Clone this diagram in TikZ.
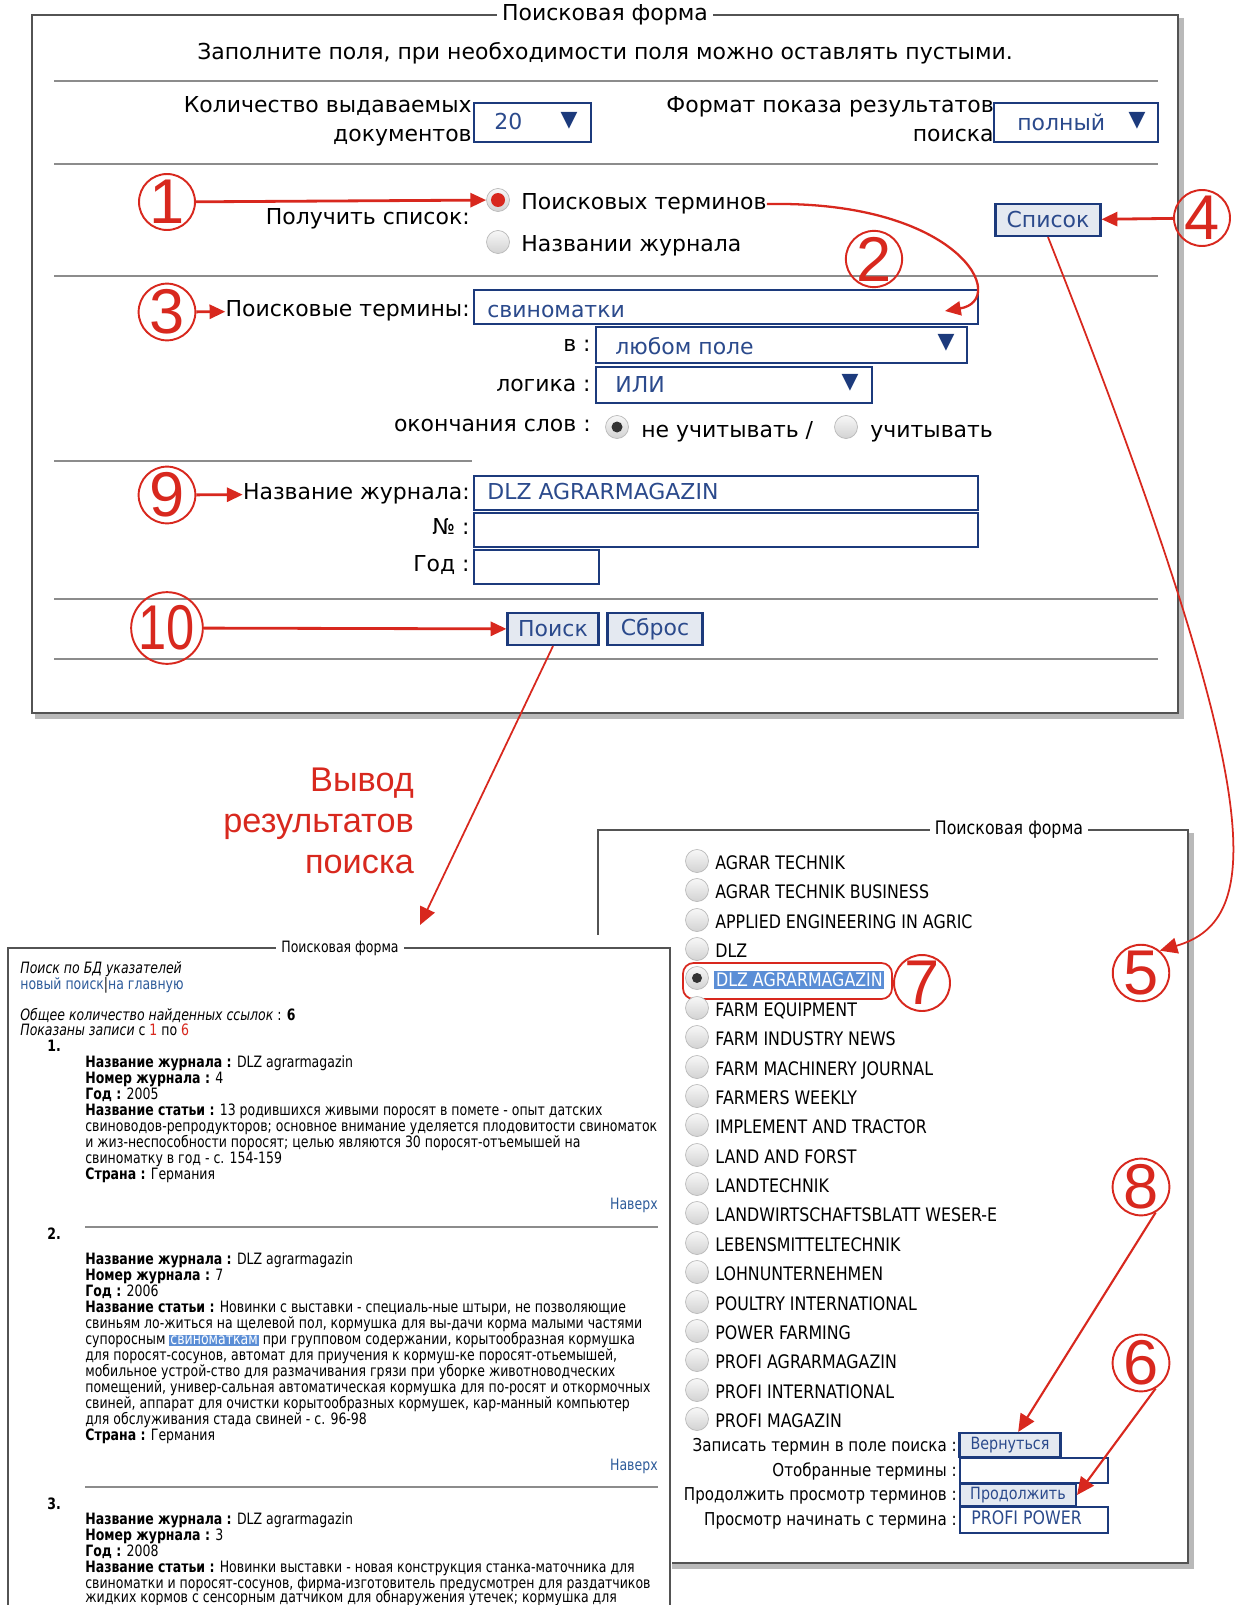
\documentclass[tikz,border=0pt]{standalone}
\usepackage{fontspec}
\setmainfont{DejaVu Sans}
\newfontfamily\listfont[FakeStretch=0.85]{DejaVu Sans}
\newfontfamily\resfont[FakeStretch=0.8]{DejaVu Sans}
\newfontfamily\annofont{Liberation Sans}
\usetikzlibrary{arrows.meta}
\definecolor{annored}{HTML}{D8281E}
\definecolor{navy}{HTML}{1C3A7C}
\definecolor{fieldblue}{HTML}{2B4A8C}
\definecolor{btnfill}{HTML}{E4E9F1}
\definecolor{sepgray}{HTML}{8C8C8C}
\definecolor{linkblue}{HTML}{2D5B9A}
\definecolor{selblue}{HTML}{5B8ED6}
\newcommand{\formfont}{\fontsize{12.5}{15}\selectfont}
\newcommand{\listsz}{\listfont\fontsize{10.6}{12}\selectfont}
\newcommand{\sidesz}{\listfont\fontsize{10.1}{12}\selectfont}
\newcommand{\btnsz}{\listfont\fontsize{9.6}{11}\selectfont}
\newcommand{\ressz}{\resfont\fontsize{8.9}{9.1}\selectfont}
\newcommand{\numfont}{\annofont\fontsize{36}{36}\selectfont}

\begin{document}
\begin{tikzpicture}[x=0.02cm, y=-0.02cm,
    num/.style={circle, draw=annored, line width=1.1pt, minimum size=1.1cm, inner sep=0pt, text=annored, font=\numfont},
    anno/.style={draw=annored, line width=1.6pt, -{Triangle[length=9pt,width=8pt]}},
    annothin/.style={draw=annored, line width=1pt, -{Triangle[length=10pt,width=9pt]}},
    field/.style={draw=navy, line width=1.4pt, fill=white},
    fieldtxt/.style={text=fieldblue, font=\formfont, anchor=mid west, inner sep=0pt},
    lbl/.style={font=\formfont, anchor=mid east, inner sep=0pt},
    txt/.style={font=\formfont, anchor=mid west, inner sep=0pt},
    btn/.style={draw=navy, line width=1.2pt, fill=btnfill, text=fieldblue, inner sep=0pt},
    radio/.style={circle, draw=gray!55, top color=gray!6, bottom color=gray!35, minimum size=0.46cm, inner sep=0pt},
    sep/.style={draw=sepgray, line width=1.3pt},
    panel/.style={draw=gray!65!black, line width=1.1pt, fill=white},
    shadow/.style={draw=gray!55, line width=3pt},
    ttl/.style={fill=white, inner sep=3pt},
    item/.style={font=\listsz, anchor=mid west, inner sep=0pt},
    side/.style={font=\sidesz, anchor=mid east, inner sep=0pt},
    res/.style={font=\ressz, anchor=mid west, inner sep=0pt}]
\useasboundingbox (0,0) rectangle (1248,1605);
\clip (0,0) rectangle (1248,1605);

% upper form
\draw[shadow] (1181,18) -- (1181,716) -- (35,716);
\draw[panel] (32,15) rectangle (1178,713);
\node[ttl, font=\formfont] (formtitle) at (605,15) {Поисковая форма};
\node[font=\formfont] (hint) at (605,53) {Заполните поля, при необходимости поля можно оставлять пустыми.};
\draw[sep] (54,81) -- (1158,81); \draw[sep] (54,164) -- (1158,164); \draw[sep] (54,276) -- (1158,276);
\draw[sep] (54,461) -- (472,461); \draw[sep] (54,599) -- (1158,599); \draw[sep] (54,659) -- (1158,659);

\node[lbl] (lbcount) at (472,108) {Количество выдаваемых}; \node[lbl] (lbcount2) at (472,137) {документов};
\draw[field] (474,103) rectangle (591,142);
\node[fieldtxt] (vcount) at (494,125) {20}; \node[text=navy, font=\formfont] (arcount) at (569,121) {▼};
\node[lbl] (lbformat) at (994,108) {Формат показа результатов}; \node[lbl] (lbformat2) at (994,137) {поиска};
\draw[field] (994,103) rectangle (1158,142);
\node[fieldtxt] (vformat) at (1017,126) {полный}; \node[text=navy, font=\formfont] (arformat) at (1137,121) {▼};

\node[lbl] (lblist) at (470,220) {Получить список:};
\node[radio] (r1) at (498,200) {}; \fill[annored] (r1.center) circle (7);
\node[txt] (t1) at (521,205) {Поисковых терминов};
\node[radio] (r2) at (498,242) {};
\node[txt] (t2) at (521,247) {Названии журнала};
\node[btn, minimum width=2.1cm, minimum height=0.64cm, font=\formfont] (spisok) at (1048,220) {Список};

\node[lbl] (lbterms) at (470,312) {Поисковые термины:};
\draw[field] (474,290) rectangle (978,324);
\node[fieldtxt] (vterms) at (487,313) {свиноматки};
\coordinate (termsin) at (945,311);
\node[lbl] (lbin) at (591,347) {в :};
\draw[field] (596,327) rectangle (967,363);
\node[fieldtxt] (vin) at (615,350) {любом поле}; \node[text=navy, font=\formfont] (arin) at (946,343) {▼};
\node[lbl] (lblogic) at (591,387) {логика :};
\draw[field] (596,367) rectangle (872,403);
\node[fieldtxt] (vlogic) at (615,388) {ИЛИ}; \node[text=navy, font=\formfont] (arlogic) at (850,383) {▼};
\node[lbl] (lbend) at (591,427) {окончания слов :};
\node[radio] (r3) at (617,427) {}; \fill[gray!40!black] (r3.center) circle (5.5);
\node[txt] (t3) at (641,433) {не учитывать /};
\node[radio] (r4) at (846,427) {};
\node[txt] (t4) at (870,433) {учитывать};

\node[lbl] (lbjour) at (470,495) {Название журнала:};
\draw[field] (474,476) rectangle (978,510);
\node[fieldtxt] (vjour) at (487,495) {DLZ AGRARMAGAZIN};
\node[lbl] (lbno) at (470,530) {№ :};
\draw[field] (474,513) rectangle (978,547);
\node[lbl] (lbyear) at (470,567) {Год :};
\draw[field] (474,550) rectangle (599,584);
\node[btn, minimum width=1.82cm, minimum height=0.64cm, font=\formfont] (poisk) at (553,629) {Поиск};
\node[btn, minimum width=1.9cm, minimum height=0.64cm, font=\formfont] (sbros) at (655,629) {Сброс};

% journal list
\draw[shadow] (1191,833) -- (1191,1566) -- (601,1566);
\draw[panel] (598,830) rectangle (1188,1563);
\node[ttl, font=\listsz] (listtitle) at (1009,830) {Поисковая форма};
\node[radio] (rb1) at (697,861) {}; \node[item] (j1) at (715,865) {AGRAR TECHNIK};
\node[radio] (rb2) at (697,890) {}; \node[item] (j2) at (715,894) {AGRAR TECHNIK BUSINESS};
\node[radio] (rb3) at (697,920) {}; \node[item] (j3) at (715,924) {APPLIED ENGINEERING IN AGRIC};
\node[radio] (rb4) at (697,949) {}; \node[item] (j4) at (715,953) {DLZ};
\node[radio] (rb5) at (697,978) {}; \fill[gray!40!black] (rb5.center) circle (5);
\node[item, fill=selblue, text=white, inner sep=1pt] (j5) at (714,982) {DLZ AGRARMAGAZIN};
\draw[annored, line width=1pt, rounded corners=6] (683,963) rectangle (892,999);
\node[radio] (rb6) at (697,1008) {}; \node[item] (j6) at (715,1012) {FARM EQUIPMENT};
\node[radio] (rb7) at (697,1037) {}; \node[item] (j7) at (715,1041) {FARM INDUSTRY NEWS};
\node[radio] (rb8) at (697,1067) {}; \node[item] (j8) at (715,1071) {FARM MACHINERY JOURNAL};
\node[radio] (rb9) at (697,1096) {}; \node[item] (j9) at (715,1100) {FARMERS WEEKLY};
\node[radio] (rb10) at (697,1125) {}; \node[item] (j10) at (715,1129) {IMPLEMENT AND TRACTOR};
\node[radio] (rb11) at (697,1155) {}; \node[item] (j11) at (715,1159) {LAND AND FORST};
\node[radio] (rb12) at (697,1184) {}; \node[item] (j12) at (715,1188) {LANDTECHNIK};
\node[radio] (rb13) at (697,1213) {}; \node[item] (j13) at (715,1217) {LANDWIRTSCHAFTSBLATT WESER-E};
\node[radio] (rb14) at (697,1243) {}; \node[item] (j14) at (715,1247) {LEBENSMITTELTECHNIK};
\node[radio] (rb15) at (697,1272) {}; \node[item] (j15) at (715,1276) {LOHNUNTERNEHMEN};
\node[radio] (rb16) at (697,1302) {}; \node[item] (j16) at (715,1306) {POULTRY INTERNATIONAL};
\node[radio] (rb17) at (697,1331) {}; \node[item] (j17) at (715,1335) {POWER FARMING};
\node[radio] (rb18) at (697,1360) {}; \node[item] (j18) at (715,1364) {PROFI AGRARMAGAZIN};
\node[radio] (rb19) at (697,1390) {}; \node[item] (j19) at (715,1394) {PROFI INTERNATIONAL};
\node[radio] (rb20) at (697,1419) {}; \node[item] (j20) at (715,1423) {PROFI MAGAZIN};
\node[side] (lbback) at (957,1447) {Записать термин в поле поиска :};
\node[btn, minimum width=2.02cm, minimum height=0.48cm, font=\btnsz] (vernut) at (1010,1445) {Вернуться};
\node[side] (lbsel) at (957,1472) {Отобранные термины :};
\draw[field, line width=1.1pt] (960,1458) rectangle (1108,1483);
\node[side] (lbnext) at (957,1496) {Продолжить просмотр терминов :};
\node[btn, minimum width=2.32cm, minimum height=0.46cm, font=\btnsz] (prodolzh) at (1018,1495) {Продолжить};
\node[side] (lbstart) at (957,1521) {Просмотр начинать с термина :};
\draw[field, line width=1.1pt] (960,1507) rectangle (1108,1533);
\node[item, text=fieldblue] (vstart) at (971,1520) {PROFI POWER};

% results
\fill[white] (0,935) rectangle (672,1605);
\draw[draw=gray!65!black, line width=1pt] (8,1620) -- (8,948) -- (670,948) -- (670,1620);
\node[ttl, font=\ressz] (restitle) at (340,948) {Поисковая форма};
\node[res] (q1) at (20,969) {\textit{Поиск по БД указателей}};
\node[res, text=linkblue] (q2) at (20,985) {новый поиск\textcolor{black}{|}на главную};
\node[res] (q3) at (20,1016) {\textit{Общее количество найденных ссылок} : \textbf{6}};
\node[res] (q4) at (20,1031) {\textit{Показаны записи} с \textcolor{annored}{1} по \textcolor{annored}{6}};
\node[res] (k1) at (47,1047) {\textbf{1.}};
\node[res] (a1) at (85,1063) {\textbf{Название журнала :} DLZ agrarmagazin};
\node[res] (a2) at (85,1079) {\textbf{Номер журнала :} 4};
\node[res] (a3) at (85,1095) {\textbf{Год :} 2005};
\node[res] (a4) at (85,1111) {\textbf{Название статьи :} 13 родившихся живыми поросят в помете - опыт датских};
\node[res] (a5) at (85,1127) {свиноводов-репродукторов; основное внимание уделяется плодовитости свиноматок};
\node[res] (a6) at (85,1143) {и жиз-неспособности поросят; целью являются 30 поросят-отъемышей на};
\node[res] (a7) at (85,1159) {свиноматку в год - с. 154-159};
\node[res] (a8) at (85,1175) {\textbf{Страна :} Германия};
\node[res, anchor=mid east, text=linkblue] (up1) at (658,1205) {Наверх};
\draw[sepgray, line width=1pt] (85,1227) -- (658,1227);
\node[res] (k2) at (47,1235) {\textbf{2.}};
\node[res] (b1) at (85,1260) {\textbf{Название журнала :} DLZ agrarmagazin};
\node[res] (b2) at (85,1276) {\textbf{Номер журнала :} 7};
\node[res] (b3) at (85,1292) {\textbf{Год :} 2006};
\node[res] (b4) at (85,1308) {\textbf{Название статьи :} Новинки с выставки - специаль-ные штыри, не позволяющие};
\node[res] (b5) at (85,1324) {свиньям ло-житься на щелевой пол, кормушка для вы-дачи корма малыми частями};
\node[res] (b6) at (85,1340) {супоросным {\setlength{\fboxsep}{0.6pt}\colorbox{selblue}{\textcolor{white}{свиноматкам}}} при групповом содержании, корытообразная кормушка};
\node[res] (b7) at (85,1356) {для поросят-сосунов, автомат для приучения к кормуш-ке поросят-отьемышей,};
\node[res] (b8) at (85,1372) {мобильное устрой-ство для размачивания грязи при уборке животноводческих};
\node[res] (b9) at (85,1388) {помещений, универ-сальная автоматическая кормушка для по-росят и откормочных};
\node[res] (b10) at (85,1404) {свиней, аппарат для очистки корытообразных кормушек, кар-манный компьютер};
\node[res] (b11) at (85,1420) {для обслуживания стада свиней - с. 96-98};
\node[res] (b12) at (85,1436) {\textbf{Страна :} Германия};
\node[res, anchor=mid east, text=linkblue] (up2) at (658,1466) {Наверх};
\draw[sepgray, line width=1pt] (85,1487) -- (658,1487);
\node[res] (k3) at (47,1505) {\textbf{3.}};
\node[res] (c1) at (85,1520) {\textbf{Название журнала :} DLZ agrarmagazin};
\node[res] (c2) at (85,1536) {\textbf{Номер журнала :} 3};
\node[res] (c3) at (85,1552) {\textbf{Год :} 2008};
\node[res] (c4) at (85,1568) {\textbf{Название статьи :} Новинки выставки - новая конструкция станка-маточника для};
\node[res] (c5) at (85,1584) {свиноматки и поросят-сосунов, фирма-изготовитель предусмотрен для раздатчиков};
\node[res] (c6) at (85,1598) {жидких кормов с сенсорным датчиком для обнаружения утечек; кормушка для};

% callouts
\node[num] (n1) at (167,202) {1}; \node[num] (n2) at (874,259) {2}; \node[num] (n3) at (167,312) {3};
\node[num] (n4) at (1202,218) {4}; \node[num] (n5) at (1141,973) {5}; \node[num] (n6) at (1141,1363) {6};
\node[num] (n7) at (922,983) {7}; \node[num] (n8) at (1141,1187) {8}; \node[num] (n9) at (167,495) {9};
\node[num] (n10) at (167,628) {\scalebox{0.8}[1]{10}};
\node[text=annored, font=\annofont\fontsize{19.5}{23.2}\selectfont, align=right, anchor=east] (vyvod) at (420,821) {Вывод\\результатов\\поиска};
\coordinate (resin) at (420,925);

\draw[anno] (n1) -- (r1);
\draw[anno] (n4) -- (spisok);
\draw[anno] (n3) -- (lbterms);
\draw[anno] (n9) -- (lbjour);
\draw[anno] (n10) -- (poisk);
\draw[anno, line width=1.3pt] (t1.east) .. controls (960,200) and (1010,300) .. (termsin);
\draw[annothin] (poisk.south) -- (resin);
\draw[annothin] (spisok.south) .. controls (1270,800) and (1265,920) .. (n5.50);
\draw[annothin, line width=1.2pt] (n8.300) -- (vernut);
\draw[annothin, line width=1.2pt] (n6.300) -- (prodolzh.east);
\end{tikzpicture}
\end{document}
